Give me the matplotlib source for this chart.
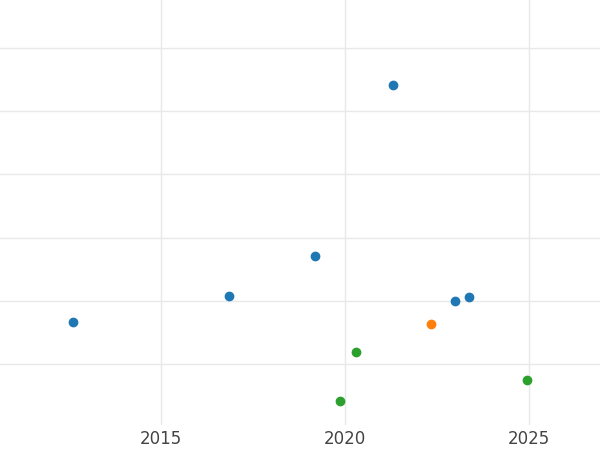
import matplotlib
matplotlib.use("Agg")
import matplotlib.pyplot as plt

# data
blue_x = [2012.61, 2016.85, 2019.18, 2021.30, 2022.99, 2023.37]
blue_y = [1.66, 2.08, 2.71, 5.41, 2.00, 2.06]
orange_x = [2022.34]
orange_y = [1.63]
green_x = [2019.86, 2020.30, 2024.95]
green_y = [0.41, 1.19, 0.75]
xticks = [2015, 2020, 2025]
yticks = [1, 2, 3, 4, 5, 6]

fig = plt.figure(figsize=(6, 4.5), dpi=100)
ax = fig.add_axes([0, 0.0556, 1, 0.9444])

ax.scatter(blue_x, blue_y, s=36, color="#1f77b4", zorder=3)
ax.scatter(orange_x, orange_y, s=36, color="#ff7f0e", zorder=3)
ax.scatter(green_x, green_y, s=36, color="#2ca02c", zorder=3)

ax.set_xlim(2010.62, 2026.93)
ax.set_ylim(0.035, 6.76)
ax.set_xticks(xticks)
ax.set_yticks(yticks)
ax.set_yticklabels([])
ax.grid(True, color="#e8e8e8", linewidth=1)
ax.set_axisbelow(True)
ax.tick_params(length=0, labelsize=12, colors="#444444")
for s in ax.spines.values():
    s.set_visible(False)

fig.savefig("out.png", dpi=100)
